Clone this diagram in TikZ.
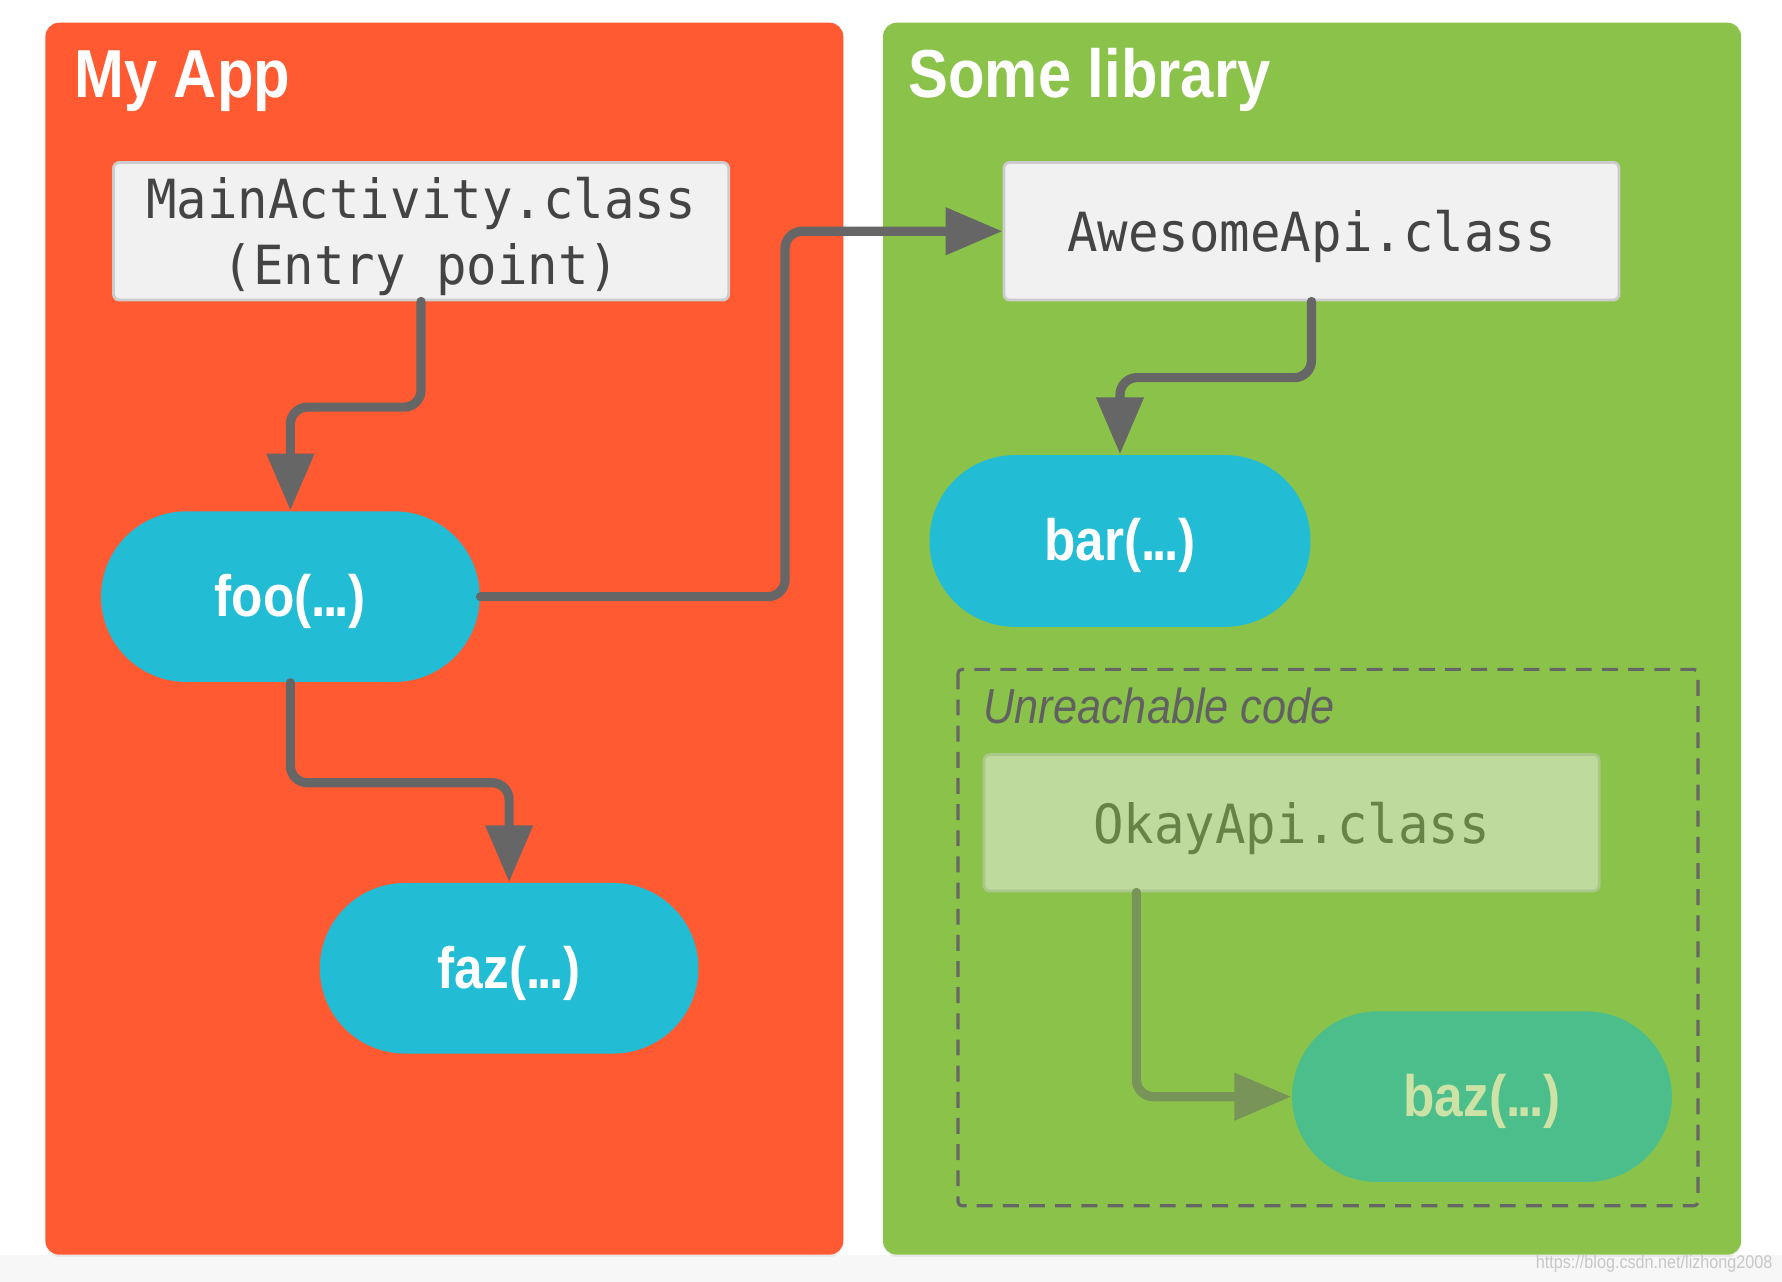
\documentclass[tikz,border=0pt]{standalone}
\usepackage{fontspec}
\setmainfont[FakeStretch=0.88]{Liberation Sans}
\setmonofont[FakeStretch=0.94]{DejaVu Sans Mono}
\usetikzlibrary{arrows.meta,positioning,shadows}

\definecolor{appred}{HTML}{FF5A31}
\definecolor{libgreen}{HTML}{8BC34A}
\definecolor{fncyan}{HTML}{22BCD4}
\definecolor{deadfn}{HTML}{4CBE8C}
\definecolor{deadtext}{HTML}{CDE3A6}
\definecolor{boxfill}{HTML}{F1F1F1}
\definecolor{boxline}{HTML}{CCCCCC}
\definecolor{deadfill}{HTML}{BEDA9D}
\definecolor{deadline}{HTML}{ABC78B}
\definecolor{deadcode}{HTML}{678347}
\definecolor{deadarrow}{HTML}{789458}
\definecolor{codegray}{HTML}{444444}
\definecolor{arrowgray}{HTML}{666666}

% tight ellipsis for the function names
\newcommand{\argdots}{.\kern-0.05em.\kern-0.05em.}

\begin{document}
\begin{tikzpicture}[x=0.01cm,y=-0.01cm,
		classbox/.style={draw=boxline, line width=0.7pt, fill=boxfill, rounded corners=1.5pt,
			minimum width=5.41cm, minimum height=1.21cm, inner ysep=0pt, align=center, text=codegray,
			text depth=-0.8pt, font=\ttfamily\fontsize{13.5}{16.5}\selectfont},
		fnpill/.style={fill=fncyan, rounded corners=0.75cm, minimum width=3.33cm,
			minimum height=1.5cm, inner sep=0pt, text=white, text depth=0.6pt,
			font=\bfseries\fontsize{14.6}{18}\selectfont},
		flow/.style={draw=arrowgray, line width=2.3pt, rounded corners=0.15cm, line cap=round,
			-{Triangle[length=0.5cm,width=0.4cm]}},
		paneltitle/.style={anchor=base west, text=white, font=\bfseries\fontsize{17}{20}\selectfont},
		panel/.style={rounded corners=0.12cm, drop shadow={opacity=0.12, shadow xshift=0pt, shadow yshift=-0.6pt}}]
	
	% background and the two panels
	\useasboundingbox (0,0) rectangle (1568,1128);
	\fill[white] (0,0) rectangle (1568,1128);
	\fill[black!3] (0,1104) rectangle (1568,1128);
	\fill[panel, appred] (40,20) rectangle (742,1104);
	\fill[panel, libgreen] (777,20) rectangle (1532,1104);
	
	\node[paneltitle] (apptitle) at (53,86) {My App};
	\node[paneltitle] (libtitle) at (787,86) {Some library};
	
	% my app
	\node[classbox] (main) at (370.5,203.5) {MainActivity.class\\(Entry point)};
	\node[fnpill] (foo) at (255.5,525) {foo(\argdots)};
	\node[fnpill] (faz) at (448,852) {faz(\argdots)};
	
	% some library
	\node[classbox] (awesome) at (1154,203.5) {AwesomeApi.class};
	\node[fnpill, minimum width=3.35cm, minimum height=1.51cm] (bar) at (985.5,476) {bar(\argdots)};
	
	\draw[arrowgray, line width=0.8pt, dash pattern=on 0.14cm off 0.09cm, rounded corners=1pt]
		(843,589) rectangle (1494,1061);
	\node[anchor=base west, text=black!62, font=\itshape\fontsize{12.3}{14}\selectfont] (unreach) at (853,637) {Unreachable code};
	\node[classbox, fill=deadfill, draw=deadline, text=deadcode, minimum height=1.2cm, text depth=0pt] (okay) at (1136.5,724) {OkayApi.class};
	\node[fnpill, fill=deadfn, text=deadtext, minimum width=3.34cm] (baz) at (1304,965) {baz(\argdots)};
	
	% calls
	\draw[flow] (main.south) -- ++(0,93) -| (foo.north);
	\draw[flow] (foo.east) -- ++(268,0) |- (awesome.west);
	\draw[flow] (foo.south) -- ++(0,88) -| (faz.north);
	\draw[flow] (awesome.south) -- ++(0,67) -| (bar.north);
	\draw[flow, draw=deadarrow] ([xshift=-1.365cm]okay.south) |- (baz.west);
	
	\node[anchor=east, text=black!22, font=\fontsize{4.6}{5}\selectfont] (mark) at (1572,1112) {https://blog.csdn.net/lizhong2008};
\end{tikzpicture}
\end{document}
